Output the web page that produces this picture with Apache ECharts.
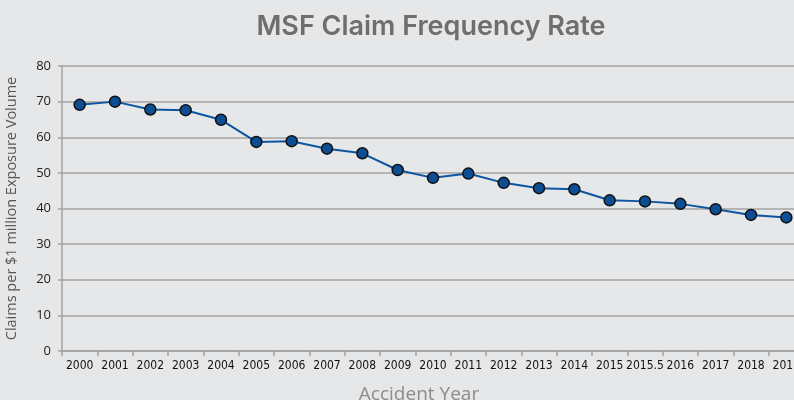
<!DOCTYPE html>
<html>
<head>
<meta charset="utf-8">
<script src="https://cdn.jsdelivr.net/npm/echarts@6/dist/echarts.min.js"></script>
<style>
  html, body { margin: 0; padding: 0; background: #e6e7e9; }
  #chart { width: 794px; height: 400px; }
</style>
</head>
<body>
<div id="chart"></div>
<script>
// accident years (2015.5 is a real category in the source chart)
const years = ["2000", "2001", "2002", "2003", "2004", "2005", "2006", "2007", "2008", "2009",
  "2010", "2011", "2012", "2013", "2014", "2015", "2015.5", "2016", "2017", "2018", "2019"];

// claims per $1 million exposure volume
const frequency = [69.1, 70.0, 67.8, 67.6, 64.9, 58.7, 58.9, 56.8, 55.5, 50.8,
  48.6, 49.8, 47.2, 45.7, 45.4, 42.3, 42.0, 41.3, 39.8, 38.2, 37.5];

const yTicks = { min: 0, max: 80, interval: 10 };

const chart = echarts.init(document.getElementById("chart"));

const option = {
  backgroundColor: "#e6e7e9",
  title: [
    {
      text: "MSF Claim Frequency Rate",
      left: 426,
      top: 8,
      textAlign: "center",
      textStyle: {
        fontFamily: "Inter, sans-serif",
        fontWeight: 600,
        fontSize: 27,
        color: "#6e6e6e"
      }
    },
    {
      text: "Accident Year",
      left: 414,
      top: 380,
      textAlign: "center",
      textStyle: {
        fontFamily: "'Open Sans', sans-serif",
        fontWeight: "normal",
        fontSize: 19,
        color: "#8c8c8c"
      }
    }
  ],
  grid: {
    left: 62,
    top: 66,
    bottom: 49,
    width: 742,
    containLabel: false,
    outerBoundsMode: "none"
  },
  xAxis: {
    type: "category",
    data: years,
    boundaryGap: true,
    axisLine: { lineStyle: { color: "#a3a3a3", width: 1.5 } },
    axisTick: { show: true, length: 5, lineStyle: { color: "#a3a3a3", width: 1.5 } },
    axisLabel: {
      interval: 0,
      margin: 9,
      fontFamily: "'Liberation Sans Narrow', 'DejaVu Sans Condensed', sans-serif",
      fontSize: 12,
      color: "#111"
    }
  },
  yAxis: {
    type: "value",
    min: yTicks.min,
    max: yTicks.max,
    interval: yTicks.interval,
    name: "Claims per $1 million Exposure Volume",
    nameLocation: "middle",
    nameGap: 43,
    nameTextStyle: {
      fontFamily: "'Open Sans', sans-serif",
      fontSize: 14.5,
      color: "#555"
    },
    axisLine: { show: true, lineStyle: { color: "#a3a3a3", width: 1.5 } },
    axisTick: { show: true, length: 4, lineStyle: { color: "#a3a3a3", width: 1.5 } },
    axisLabel: {
      margin: 11,
      fontFamily: "'Open Sans', sans-serif",
      fontSize: 13,
      color: "#222"
    },
    splitLine: { lineStyle: { color: "#a3a3a3", width: 1.5 } }
  },
  series: [
    {
      type: "line",
      data: frequency,
      symbol: "circle",
      symbolSize: 11,
      lineStyle: { color: "#0d55a0", width: 2 },
      itemStyle: { color: "#0b4e94", borderColor: "#111", borderWidth: 1.5 },
      animation: false
    }
  ]
};

chart.setOption(option);
</script>
</body>
</html>
